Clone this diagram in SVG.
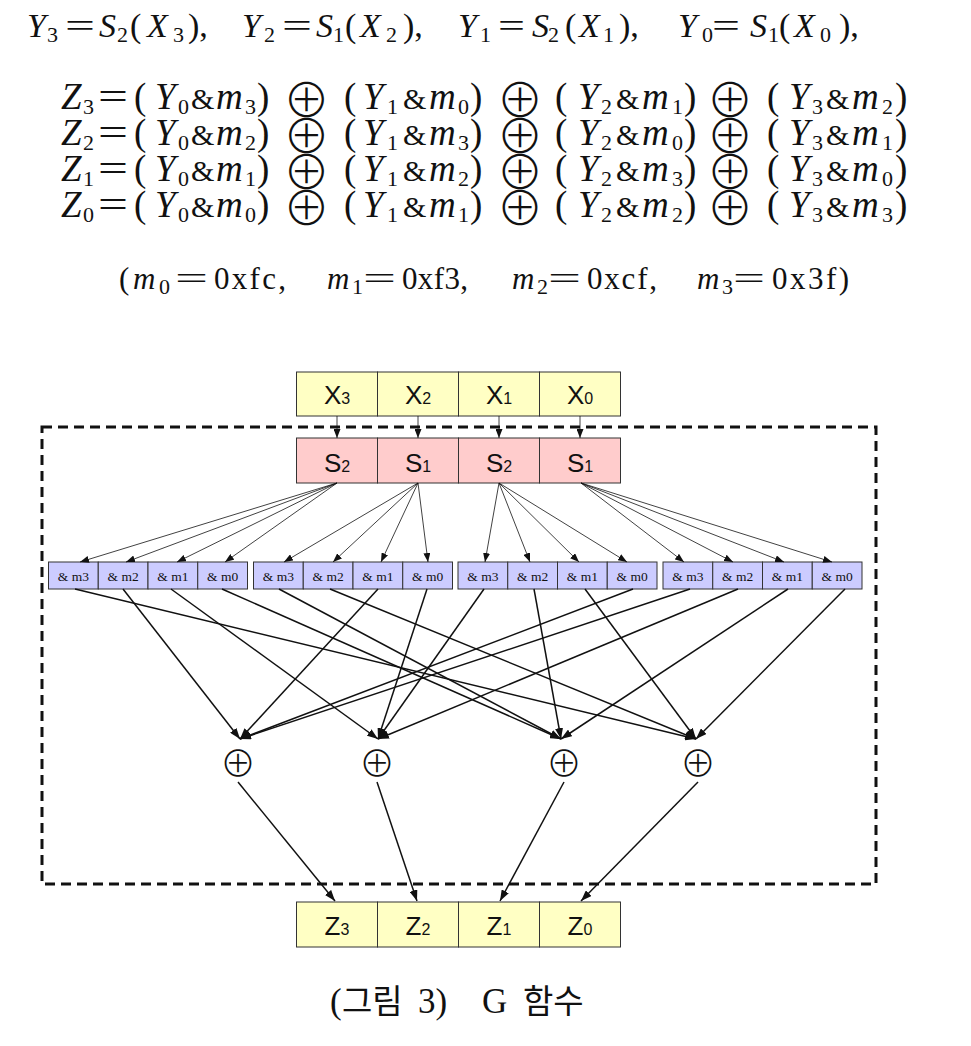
<svg xmlns="http://www.w3.org/2000/svg" width="971" height="1046" viewBox="0 0 971 1046">
<style>
.eq{font-family:"Liberation Serif",serif;font-size:34px;fill:#111}
.eq2{font-family:"Liberation Serif",serif;font-size:37px;fill:#111}
.i{font-style:italic}
.sb{font-size:22px}
.amp{font-size:30px}
.ox{font-family:"Noto Sans CJK KR",sans-serif;font-weight:300;font-size:47px;fill:#111;text-anchor:middle}
.mv{font-family:"Liberation Serif",serif;font-size:31px;fill:#111}
.xb{fill:#ffffc4;stroke:#333;stroke-width:1}
.sbx{fill:#ffcccc;stroke:#333;stroke-width:1}
.mb{fill:#ccccff;stroke:#333;stroke-width:1}
.bl{font-family:"Liberation Sans",sans-serif;font-size:26px;fill:#111;text-anchor:middle}
.bl tspan.d{font-size:16px}
.ml{font-family:"Liberation Serif",serif;font-size:13.5px;fill:#111;text-anchor:middle}
.xor{font-family:"Noto Sans CJK KR",sans-serif;font-weight:300;font-size:36px;fill:#111;text-anchor:middle}
.thin{stroke:#111;stroke-width:0.8;fill:none;marker-end:url(#ah1)}
.thick{stroke:#111;stroke-width:1.5;fill:none;marker-end:url(#ah2)}
.cap{font-family:"Liberation Serif","Noto Sans CJK KR",serif;font-size:35px;fill:#111}
.ko{font-family:"Noto Sans CJK KR",sans-serif;font-size:33px}
</style>
<defs>
<marker id="ah1" markerUnits="userSpaceOnUse" markerWidth="9" markerHeight="7" refX="9" refY="3.5" orient="auto"><path d="M0,0 L9,3.5 L0,7 z" fill="#111"/></marker>
<marker id="ah2" markerUnits="userSpaceOnUse" markerWidth="11" markerHeight="8" refX="11" refY="4" orient="auto"><path d="M0,0 L11,4 L0,8 z" fill="#111"/></marker>
</defs>

<g id="equations">
<text class="eq" y="37"><tspan class="i" x="27">Y</tspan><tspan class="sb" x="47" y="42">3</tspan><tspan x="65" y="37" textLength="30" lengthAdjust="spacingAndGlyphs">=</tspan><tspan class="i" x="99">S</tspan><tspan class="sb" x="117" y="42">2</tspan><tspan x="130" y="37">(</tspan><tspan class="i" x="147">X</tspan><tspan class="sb" x="173" y="42">3</tspan><tspan x="188" y="37">),</tspan>
<tspan class="i" x="242">Y</tspan><tspan class="sb" x="264" y="42">2</tspan><tspan x="282" y="37" textLength="30" lengthAdjust="spacingAndGlyphs">=</tspan><tspan class="i" x="316">S</tspan><tspan class="sb" x="333" y="42">1</tspan><tspan x="345" y="37">(</tspan><tspan class="i" x="360">X</tspan><tspan class="sb" x="386" y="42">2</tspan><tspan x="403" y="37">),</tspan>
<tspan class="i" x="458">Y</tspan><tspan class="sb" x="480" y="42">1</tspan><tspan x="498" y="37" textLength="27" lengthAdjust="spacingAndGlyphs">=</tspan><tspan class="i" x="532">S</tspan><tspan class="sb" x="548" y="42">2</tspan><tspan x="565" y="37">(</tspan><tspan class="i" x="579">X</tspan><tspan class="sb" x="603" y="42">1</tspan><tspan x="619" y="37">),</tspan>
<tspan class="i" x="678">Y</tspan><tspan class="sb" x="702" y="42">0</tspan><tspan x="712" y="37" textLength="28" lengthAdjust="spacingAndGlyphs">=</tspan><tspan class="i" x="750">S</tspan><tspan class="sb" x="768" y="42">1</tspan><tspan x="779" y="37">(</tspan><tspan class="i" x="794">X</tspan><tspan class="sb" x="820" y="42">0</tspan><tspan x="839" y="37">),</tspan></text>

<text class="eq2" y="109"><tspan class="i" x="61">Z</tspan><tspan class="sb" x="83" y="114">3</tspan><tspan x="98" y="109" textLength="30" lengthAdjust="spacingAndGlyphs">=</tspan><tspan x="134">(</tspan><tspan class="i" x="155">Y</tspan><tspan class="sb" x="178" y="114">0</tspan><tspan class="amp" x="191" y="109">&amp;</tspan><tspan class="i" x="216">m</tspan><tspan class="sb" x="245" y="114">3</tspan><tspan x="257" y="109">)</tspan><tspan x="344">(</tspan><tspan class="i" x="363">Y</tspan><tspan class="sb" x="387" y="114">1</tspan><tspan class="amp" x="403" y="109">&amp;</tspan><tspan class="i" x="429">m</tspan><tspan class="sb" x="458" y="114">0</tspan><tspan x="470" y="109">)</tspan><tspan x="555">(</tspan><tspan class="i" x="578">Y</tspan><tspan class="sb" x="601" y="114">2</tspan><tspan class="amp" x="616" y="109">&amp;</tspan><tspan class="i" x="642">m</tspan><tspan class="sb" x="672" y="114">1</tspan><tspan x="684" y="109">)</tspan><tspan x="767">(</tspan><tspan class="i" x="789">Y</tspan><tspan class="sb" x="812" y="114">3</tspan><tspan class="amp" x="826" y="109">&amp;</tspan><tspan class="i" x="852">m</tspan><tspan class="sb" x="882" y="114">2</tspan><tspan x="895" y="109">)</tspan></text>

<text class="eq2" y="145"><tspan class="i" x="61">Z</tspan><tspan class="sb" x="83" y="150">2</tspan><tspan x="98" y="145" textLength="30" lengthAdjust="spacingAndGlyphs">=</tspan><tspan x="134">(</tspan><tspan class="i" x="155">Y</tspan><tspan class="sb" x="178" y="150">0</tspan><tspan class="amp" x="191" y="145">&amp;</tspan><tspan class="i" x="216">m</tspan><tspan class="sb" x="245" y="150">2</tspan><tspan x="257" y="145">)</tspan><tspan x="344">(</tspan><tspan class="i" x="363">Y</tspan><tspan class="sb" x="387" y="150">1</tspan><tspan class="amp" x="403" y="145">&amp;</tspan><tspan class="i" x="429">m</tspan><tspan class="sb" x="458" y="150">3</tspan><tspan x="470" y="145">)</tspan><tspan x="555">(</tspan><tspan class="i" x="578">Y</tspan><tspan class="sb" x="601" y="150">2</tspan><tspan class="amp" x="616" y="145">&amp;</tspan><tspan class="i" x="642">m</tspan><tspan class="sb" x="672" y="150">0</tspan><tspan x="684" y="145">)</tspan><tspan x="767">(</tspan><tspan class="i" x="789">Y</tspan><tspan class="sb" x="812" y="150">3</tspan><tspan class="amp" x="826" y="145">&amp;</tspan><tspan class="i" x="852">m</tspan><tspan class="sb" x="882" y="150">1</tspan><tspan x="895" y="145">)</tspan></text>

<text class="eq2" y="181"><tspan class="i" x="61">Z</tspan><tspan class="sb" x="83" y="186">1</tspan><tspan x="98" y="181" textLength="30" lengthAdjust="spacingAndGlyphs">=</tspan><tspan x="134">(</tspan><tspan class="i" x="155">Y</tspan><tspan class="sb" x="178" y="186">0</tspan><tspan class="amp" x="191" y="181">&amp;</tspan><tspan class="i" x="216">m</tspan><tspan class="sb" x="245" y="186">1</tspan><tspan x="257" y="181">)</tspan><tspan x="344">(</tspan><tspan class="i" x="363">Y</tspan><tspan class="sb" x="387" y="186">1</tspan><tspan class="amp" x="403" y="181">&amp;</tspan><tspan class="i" x="429">m</tspan><tspan class="sb" x="458" y="186">2</tspan><tspan x="470" y="181">)</tspan><tspan x="555">(</tspan><tspan class="i" x="578">Y</tspan><tspan class="sb" x="601" y="186">2</tspan><tspan class="amp" x="616" y="181">&amp;</tspan><tspan class="i" x="642">m</tspan><tspan class="sb" x="672" y="186">3</tspan><tspan x="684" y="181">)</tspan><tspan x="767">(</tspan><tspan class="i" x="789">Y</tspan><tspan class="sb" x="812" y="186">3</tspan><tspan class="amp" x="826" y="181">&amp;</tspan><tspan class="i" x="852">m</tspan><tspan class="sb" x="882" y="186">0</tspan><tspan x="895" y="181">)</tspan></text>

<text class="eq2" y="217"><tspan class="i" x="61">Z</tspan><tspan class="sb" x="83" y="222">0</tspan><tspan x="98" y="217" textLength="30" lengthAdjust="spacingAndGlyphs">=</tspan><tspan x="134">(</tspan><tspan class="i" x="155">Y</tspan><tspan class="sb" x="178" y="222">0</tspan><tspan class="amp" x="191" y="217">&amp;</tspan><tspan class="i" x="216">m</tspan><tspan class="sb" x="245" y="222">0</tspan><tspan x="257" y="217">)</tspan><tspan x="344">(</tspan><tspan class="i" x="363">Y</tspan><tspan class="sb" x="387" y="222">1</tspan><tspan class="amp" x="403" y="217">&amp;</tspan><tspan class="i" x="429">m</tspan><tspan class="sb" x="458" y="222">1</tspan><tspan x="470" y="217">)</tspan><tspan x="555">(</tspan><tspan class="i" x="578">Y</tspan><tspan class="sb" x="601" y="222">2</tspan><tspan class="amp" x="616" y="217">&amp;</tspan><tspan class="i" x="642">m</tspan><tspan class="sb" x="672" y="222">2</tspan><tspan x="684" y="217">)</tspan><tspan x="767">(</tspan><tspan class="i" x="789">Y</tspan><tspan class="sb" x="812" y="222">3</tspan><tspan class="amp" x="826" y="217">&amp;</tspan><tspan class="i" x="852">m</tspan><tspan class="sb" x="882" y="222">3</tspan><tspan x="895" y="217">)</tspan></text>

<text class="ox" x="306.5" y="116.5">⊕</text><text class="ox" x="520" y="116.5">⊕</text><text class="ox" x="730" y="116.5">⊕</text>
<text class="ox" x="306.5" y="152.5">⊕</text><text class="ox" x="520" y="152.5">⊕</text><text class="ox" x="730" y="152.5">⊕</text>
<text class="ox" x="306.5" y="188.5">⊕</text><text class="ox" x="520" y="188.5">⊕</text><text class="ox" x="730" y="188.5">⊕</text>
<text class="ox" x="306.5" y="224.5">⊕</text><text class="ox" x="520" y="224.5">⊕</text><text class="ox" x="730" y="224.5">⊕</text>

<text class="mv" y="289"><tspan x="119">(</tspan><tspan class="i" x="133">m</tspan><tspan class="sb" x="159" y="294">0</tspan><tspan x="175" y="289" textLength="33" lengthAdjust="spacingAndGlyphs">=</tspan><tspan x="214" textLength="72" lengthAdjust="spacing">0xfc,</tspan><tspan class="i" x="327">m</tspan><tspan class="sb" x="352" y="294">1</tspan><tspan x="363" y="289" textLength="33" lengthAdjust="spacingAndGlyphs">=</tspan><tspan x="402" textLength="66" lengthAdjust="spacing">0xf3,</tspan><tspan class="i" x="512">m</tspan><tspan class="sb" x="537" y="294">2</tspan><tspan x="548" y="289" textLength="33" lengthAdjust="spacingAndGlyphs">=</tspan><tspan x="587" textLength="70" lengthAdjust="spacing">0xcf,</tspan><tspan class="i" x="697">m</tspan><tspan class="sb" x="722" y="294">3</tspan><tspan x="733" y="289" textLength="32" lengthAdjust="spacingAndGlyphs">=</tspan><tspan x="772" textLength="77" lengthAdjust="spacing">0x3f)</tspan></text>
</g>

<rect id="boundary" x="42" y="427" width="834" height="457" fill="none" stroke="#111" stroke-width="3" stroke-dasharray="10,6"/>

<g id="x3"><rect class="xb" x="296.5" y="372" width="81" height="44"/><text class="bl" x="337" y="404">X<tspan class="d">3</tspan></text></g>
<g id="x2"><rect class="xb" x="377.5" y="372" width="81" height="44"/><text class="bl" x="418" y="404">X<tspan class="d">2</tspan></text></g>
<g id="x1"><rect class="xb" x="458.5" y="372" width="81" height="44"/><text class="bl" x="499" y="404">X<tspan class="d">1</tspan></text></g>
<g id="x0"><rect class="xb" x="539.5" y="372" width="81" height="44"/><text class="bl" x="580" y="404">X<tspan class="d">0</tspan></text></g>

<g id="s2a"><rect class="sbx" x="296.5" y="438" width="81" height="45"/><text class="bl" x="337" y="472">S<tspan class="d">2</tspan></text></g>
<g id="s1a"><rect class="sbx" x="377.5" y="438" width="81" height="45"/><text class="bl" x="418" y="472">S<tspan class="d">1</tspan></text></g>
<g id="s2b"><rect class="sbx" x="458.5" y="438" width="81" height="45"/><text class="bl" x="499" y="472">S<tspan class="d">2</tspan></text></g>
<g id="s1b"><rect class="sbx" x="539.5" y="438" width="81" height="45"/><text class="bl" x="580" y="472">S<tspan class="d">1</tspan></text></g>

<g id="g1m3"><rect class="mb" x="48.5" y="562" width="49.75" height="27"/><text class="ml" x="73.4" y="581">&amp; m3</text></g>
<g id="g1m2"><rect class="mb" x="98.25" y="562" width="49.75" height="27"/><text class="ml" x="123.1" y="581">&amp; m2</text></g>
<g id="g1m1"><rect class="mb" x="148" y="562" width="49.75" height="27"/><text class="ml" x="172.9" y="581">&amp; m1</text></g>
<g id="g1m0"><rect class="mb" x="197.75" y="562" width="49.75" height="27"/><text class="ml" x="222.6" y="581">&amp; m0</text></g>
<g id="g2m3"><rect class="mb" x="253.5" y="562" width="49.75" height="27"/><text class="ml" x="278.4" y="581">&amp; m3</text></g>
<g id="g2m2"><rect class="mb" x="303.25" y="562" width="49.75" height="27"/><text class="ml" x="328.1" y="581">&amp; m2</text></g>
<g id="g2m1"><rect class="mb" x="353" y="562" width="49.75" height="27"/><text class="ml" x="377.9" y="581">&amp; m1</text></g>
<g id="g2m0"><rect class="mb" x="402.75" y="562" width="49.75" height="27"/><text class="ml" x="427.6" y="581">&amp; m0</text></g>
<g id="g3m3"><rect class="mb" x="458" y="562" width="49.75" height="27"/><text class="ml" x="482.9" y="581">&amp; m3</text></g>
<g id="g3m2"><rect class="mb" x="507.75" y="562" width="49.75" height="27"/><text class="ml" x="532.6" y="581">&amp; m2</text></g>
<g id="g3m1"><rect class="mb" x="557.5" y="562" width="49.75" height="27"/><text class="ml" x="582.4" y="581">&amp; m1</text></g>
<g id="g3m0"><rect class="mb" x="607.25" y="562" width="49.75" height="27"/><text class="ml" x="632.1" y="581">&amp; m0</text></g>
<g id="g4m3"><rect class="mb" x="663" y="562" width="49.75" height="27"/><text class="ml" x="687.9" y="581">&amp; m3</text></g>
<g id="g4m2"><rect class="mb" x="712.75" y="562" width="49.75" height="27"/><text class="ml" x="737.6" y="581">&amp; m2</text></g>
<g id="g4m1"><rect class="mb" x="762.5" y="562" width="49.75" height="27"/><text class="ml" x="787.4" y="581">&amp; m1</text></g>
<g id="g4m0"><rect class="mb" x="812.25" y="562" width="49.75" height="27"/><text class="ml" x="837.1" y="581">&amp; m0</text></g>

<g id="xor3"><text class="xor" x="238" y="777">⊕</text></g>
<g id="xor2"><text class="xor" x="377" y="777">⊕</text></g>
<g id="xor1"><text class="xor" x="564" y="777">⊕</text></g>
<g id="xor0"><text class="xor" x="698" y="777">⊕</text></g>

<g id="z3"><rect class="xb" x="296.5" y="902" width="81" height="45"/><text class="bl" x="337" y="935">Z<tspan class="d">3</tspan></text></g>
<g id="z2"><rect class="xb" x="377.5" y="902" width="81" height="45"/><text class="bl" x="418" y="935">Z<tspan class="d">2</tspan></text></g>
<g id="z1"><rect class="xb" x="458.5" y="902" width="81" height="45"/><text class="bl" x="499" y="935">Z<tspan class="d">1</tspan></text></g>
<g id="z0"><rect class="xb" x="539.5" y="902" width="81" height="45"/><text class="bl" x="580" y="935">Z<tspan class="d">0</tspan></text></g>

<g id="connectors">
<line class="thin" x1="337" y1="416" x2="337" y2="438"/>
<line class="thin" x1="418" y1="416" x2="418" y2="438"/>
<line class="thin" x1="499" y1="416" x2="499" y2="438"/>
<line class="thin" x1="580" y1="416" x2="580" y2="438"/>

<line class="thin" x1="337" y1="483" x2="80" y2="562"/>
<line class="thin" x1="337" y1="483" x2="126" y2="562"/>
<line class="thin" x1="337" y1="483" x2="177" y2="562"/>
<line class="thin" x1="337" y1="483" x2="225" y2="562"/>
<line class="thin" x1="418" y1="483" x2="284" y2="562"/>
<line class="thin" x1="418" y1="483" x2="333" y2="562"/>
<line class="thin" x1="418" y1="483" x2="381" y2="562"/>
<line class="thin" x1="418" y1="483" x2="428" y2="562"/>
<line class="thin" x1="499" y1="483" x2="485" y2="562"/>
<line class="thin" x1="499" y1="483" x2="530" y2="562"/>
<line class="thin" x1="499" y1="483" x2="579" y2="562"/>
<line class="thin" x1="499" y1="483" x2="627" y2="562"/>
<line class="thin" x1="581" y1="483" x2="684" y2="562"/>
<line class="thin" x1="581" y1="483" x2="733" y2="562"/>
<line class="thin" x1="581" y1="483" x2="784" y2="562"/>
<line class="thin" x1="581" y1="483" x2="832" y2="562"/>

<line class="thick" x1="75" y1="589" x2="696" y2="739"/>
<line class="thick" x1="123" y1="589" x2="240" y2="739"/>
<line class="thick" x1="171" y1="589" x2="378" y2="739"/>
<line class="thick" x1="222" y1="589" x2="561" y2="739"/>
<line class="thick" x1="279" y1="589" x2="561" y2="739"/>
<line class="thick" x1="330" y1="589" x2="696" y2="739"/>
<line class="thick" x1="378" y1="589" x2="240" y2="739"/>
<line class="thick" x1="427" y1="589" x2="378" y2="739"/>
<line class="thick" x1="484" y1="589" x2="378" y2="739"/>
<line class="thick" x1="534" y1="589" x2="561" y2="739"/>
<line class="thick" x1="585" y1="589" x2="696" y2="739"/>
<line class="thick" x1="633" y1="589" x2="240" y2="739"/>
<line class="thick" x1="690" y1="589" x2="240" y2="739"/>
<line class="thick" x1="738" y1="589" x2="378" y2="739"/>
<line class="thick" x1="788" y1="589" x2="561" y2="739"/>
<line class="thick" x1="845" y1="589" x2="696" y2="739"/>

<line class="thick" x1="238" y1="782" x2="335" y2="901"/>
<line class="thick" x1="377" y1="782" x2="417" y2="901"/>
<line class="thick" x1="564" y1="782" x2="500" y2="901"/>
<line class="thick" x1="698" y1="782" x2="581" y2="901"/>
</g>

<text class="cap" y="1013"><tspan x="330">(</tspan><tspan class="ko" x="342">그림</tspan><tspan x="418">3)</tspan><tspan x="482">G</tspan><tspan class="ko" x="523">함수</tspan></text>
</svg>
